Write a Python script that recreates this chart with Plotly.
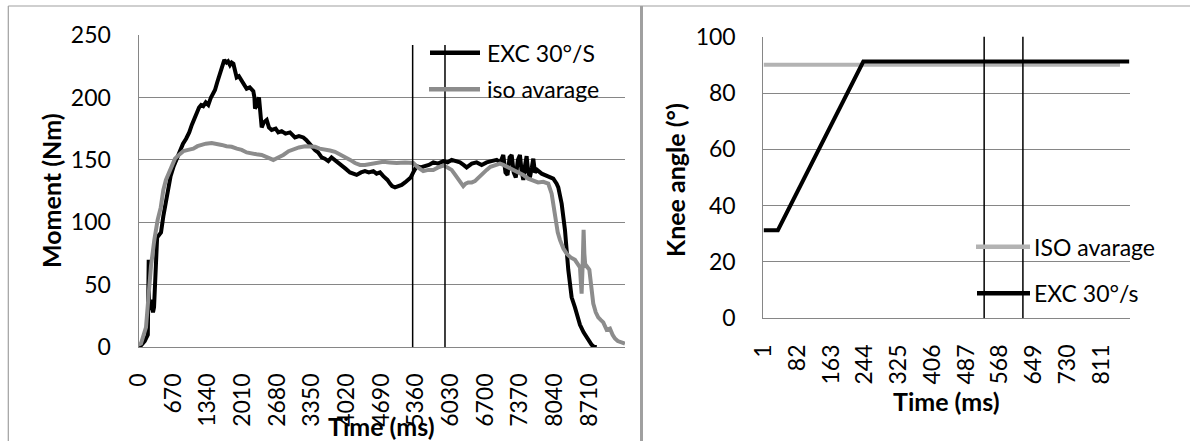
import plotly.graph_objects as go

# ---------------- data: left chart (moment) ----------------
exc_time_ms = [0, 40, 120, 180, 197, 205, 240, 280, 300, 320, 340, 360, 400, 435, 480, 530, 576, 620, 680, 740,
               800, 860, 920, 980, 1030, 1080, 1124, 1170, 1210, 1252, 1300, 1349, 1400, 1440, 1478, 1520, 1575,
               1620, 1658, 1700, 1730, 1768, 1800, 1833, 1870, 1897, 1940, 1994, 2040, 2090, 2150, 2218, 2240,
               2251, 2290, 2328, 2350, 2380, 2420, 2477, 2520, 2573, 2650, 2700, 2766, 2840, 2927, 2980, 3023,
               3100, 3185, 3240, 3281, 3340, 3410, 3470, 3539, 3600, 3667, 3730, 3797, 3860, 3926, 4000, 4086,
               4150, 4215, 4300, 4376, 4450, 4537, 4600, 4666, 4730, 4762, 4810, 4859, 4900, 4956, 5020, 5085,
               5150, 5213, 5260, 5309, 5340, 5375, 5450, 5535, 5610, 5696, 5790, 5889, 5970, 6050, 6130, 6211,
               6280, 6340, 6440, 6534, 6630, 6727, 6820, 6920, 6990, 7048, 7090, 7130, 7170, 7210, 7250, 7290,
               7330, 7370, 7400, 7435, 7470, 7499, 7530, 7563, 7600, 7628, 7660, 7700, 7790, 7886, 7950, 8014,
               8079, 8111, 8176, 8240, 8304, 8369, 8433, 8480, 8530, 8600, 8659, 8710, 8756, 8800, 8852]
exc_moment_nm = [0, 1, 5, 10, 70, 30, 38, 28, 32, 55, 85, 88, 90, 92, 105, 118, 129, 137, 145, 151,
                 158, 163, 167, 172, 178, 183, 188, 192, 194, 193, 196, 194, 200, 203, 206, 212, 220,
                 225, 230, 228, 229, 226, 228, 227, 220, 216, 217, 213, 210, 207, 208, 205, 200,
                 191, 195, 200, 190, 176, 180, 182, 176, 174, 175, 172, 173, 171, 172, 170, 168,
                 169, 168, 166, 164, 161, 158, 156, 152, 151, 149, 152, 150, 148, 146, 143, 140,
                 139, 138, 140, 141, 140, 141, 139, 140, 137, 136, 134, 131, 129, 128, 129, 130,
                 132, 134, 136, 140, 143, 145, 144, 145, 146, 148, 147, 149, 148, 150, 149, 148,
                 146, 144, 147, 148, 146, 148, 149, 150, 148, 154, 140, 138, 152, 154, 140, 136,
                 150, 154, 142, 134, 146, 153, 140, 136, 144, 151, 140, 142, 139, 137, 136, 135,
                 131, 128, 115, 94, 62, 40, 32, 25, 18, 12, 8, 5, 2, 0.5, 0]

iso_time_ms = [0, 48, 145, 200, 241, 306, 370, 430, 480, 530, 576, 640, 705, 780, 866, 960, 1059, 1140, 1220,
               1300, 1414, 1500, 1607, 1700, 1800, 1900, 1994, 2090, 2187, 2280, 2380, 2500, 2605, 2700, 2798,
               2900, 2991, 3100, 3217, 3300, 3410, 3500, 3603, 3700, 3797, 3900, 3990, 4090, 4183, 4280, 4376,
               4470, 4570, 4650, 4730, 4850, 4988, 5150, 5309, 5400, 5502, 5600, 5696, 5790, 5889, 5970, 6050,
               6120, 6179, 6230, 6275, 6320, 6372, 6440, 6501, 6550, 6598, 6660, 6727, 6800, 6888, 6984, 7048,
               7140, 7241, 7340, 7434, 7530, 7628, 7720, 7821, 7917, 7983, 8047, 8100, 8143, 8210, 8273, 8350,
               8433, 8490, 8530, 8550, 8562, 8585, 8600, 8615, 8635, 8659, 8711, 8750, 8787, 8835, 8883, 8930,
               8980, 9045, 9080, 9109, 9160, 9206, 9260, 9303, 9350, 9399]
iso_moment_nm = [2, 3, 16, 45, 65, 86, 102, 112, 126, 134, 139, 146, 151, 154, 157, 158, 159, 161, 162,
                 163, 163.5, 163, 162, 161, 160.5, 159, 158, 156, 155, 154.5, 154, 152, 150, 152, 154,
                 157, 158.5, 160, 161, 161, 160.5, 159, 158.5, 157.5, 156.5, 154.5, 152.5, 150, 147.5, 146, 146,
                 146.5, 147.5, 148, 148.5, 148, 147.5, 148, 147.5, 144, 141, 142, 142, 144, 145.5, 144, 142,
                 138, 134, 131, 129, 131, 132, 132, 133, 135, 137, 140, 142, 144.5, 146, 147, 146,
                 144, 142, 140, 138, 135, 133, 132, 132.5, 131, 123, 105, 92, 86, 79, 75, 72,
                 70, 67, 64, 50, 43, 70, 94, 75, 64, 65, 62, 48, 35, 28, 24, 22,
                 20, 14, 15, 15, 10, 7, 5, 4.5, 3.5, 3]

left_tick_values = [0, 670, 1340, 2010, 2680, 3350, 4020, 4690, 5360, 6030, 6700, 7370, 8040, 8710]
left_marker_ms = [5297, 5922]

# ---------------- data: right chart (knee angle) ----------------
angle_exc_time = [1, 35, 240, 878]
angle_exc_deg = [31.3, 31.3, 91.2, 91.2]
angle_iso_time = [1, 856]
angle_iso_deg = [90, 90]
right_tick_values = [1, 82, 163, 244, 325, 406, 487, 568, 649, 730, 811]
right_marker_time = [530, 623]

# ---------------- styling ----------------
W, H = 1194, 441
FONT = "Lato"
GRID = "#868686"
BLACK = "#000000"
GRAY_L = "#8c8c8c"
GRAY_R = "#b3b3b3"


def px(x):
    return x / W


def py(y):
    return 1 - y / H


fig = go.Figure()
fig.add_trace(go.Scatter(x=exc_time_ms, y=exc_moment_nm, mode="lines", name="EXC 30°/S",
                         line=dict(color=BLACK, width=4), xaxis="x", yaxis="y"))
fig.add_trace(go.Scatter(x=iso_time_ms, y=iso_moment_nm, mode="lines", name="iso avarage",
                         line=dict(color=GRAY_L, width=4), xaxis="x", yaxis="y"))
fig.add_trace(go.Scatter(x=angle_iso_time, y=angle_iso_deg, mode="lines", name="ISO avarage",
                         line=dict(color=GRAY_R, width=4), xaxis="x2", yaxis="y2"))
fig.add_trace(go.Scatter(x=angle_exc_time, y=angle_exc_deg, mode="lines", name="EXC 30°/s",
                         line=dict(color=BLACK, width=4), xaxis="x2", yaxis="y2"))

tickfont = dict(family=FONT, size=23, color="black")
axis_common = dict(showline=True, linecolor=GRID, linewidth=1, zeroline=False, ticks="",
                   tickfont=tickfont, fixedrange=True, automargin=False)

fig.update_layout(
    template="none",
    width=W, height=H, autosize=False,
    margin=dict(l=0, r=0, t=0, b=0, pad=0),
    paper_bgcolor="white", plot_bgcolor="white",
    showlegend=False,
    font=dict(family=FONT, color="black"),
    xaxis=dict(domain=[px(138.5), px(625)], range=[0, 9400], tickmode="array",
               tickvals=left_tick_values, ticktext=[str(v) for v in left_tick_values],
               tickangle=-90, showgrid=False, anchor="y", ticklabelstandoff=16, **axis_common),
    yaxis=dict(domain=[py(347.3), py(35)], range=[0, 250], dtick=50, showgrid=True,
               gridcolor=GRID, gridwidth=1, anchor="x", ticklabelstandoff=22, **axis_common),
    xaxis2=dict(domain=[px(763.3), px(1130)], range=[0, 880], tickmode="array",
                tickvals=right_tick_values, ticktext=[str(v) for v in right_tick_values],
                tickangle=-90, showgrid=False, anchor="y2", ticklabelstandoff=16, **axis_common),
    yaxis2=dict(domain=[py(318.3), py(36.7)], range=[0, 100], dtick=20, showgrid=True,
                gridcolor=GRID, gridwidth=1, anchor="x2", ticklabelstandoff=22, **axis_common),
)

shapes = []
# vertical marker lines
for t in left_marker_ms:
    shapes.append(dict(type="line", xref="x", yref="y", x0=t, x1=t, y0=0, y1=242,
                       line=dict(color=BLACK, width=1.5)))
for t in right_marker_time:
    shapes.append(dict(type="line", xref="x2", yref="y2", x0=t, x1=t, y0=0, y1=100.5,
                       line=dict(color=BLACK, width=1.5)))

# frame lines
frame = "#a0a0a0"
shapes += [
    dict(type="line", xref="paper", yref="paper", x0=px(8.3), x1=px(8.3), y0=0, y1=py(6),
         line=dict(color=frame, width=1.2)),
    dict(type="line", xref="paper", yref="paper", x0=px(8.3), x1=px(1190), y0=py(6), y1=py(6),
         line=dict(color=frame, width=1.2)),
    dict(type="line", xref="paper", yref="paper", x0=px(641.5), x1=px(641.5), y0=0, y1=py(6),
         line=dict(color=frame, width=3)),
]


def legend_line(x0, x1, y, color):
    return dict(type="line", xref="paper", yref="paper", x0=px(x0), x1=px(x1), y0=py(y), y1=py(y),
                line=dict(color=color, width=4.5))


shapes += [
    legend_line(430, 480, 52.7, BLACK),
    legend_line(429, 480, 89.3, GRAY_L),
    legend_line(976, 1030, 246.7, GRAY_R),
    legend_line(977, 1030, 293.3, BLACK),
]
fig.update_layout(shapes=shapes)

ann_font = dict(family=FONT, size=23, color="black")
title_font = dict(family=FONT, size=25, color="black")
annotations = [
    dict(text="EXC 30°/S", x=px(486), y=py(52.7), xanchor="left", yanchor="middle", font=ann_font),
    dict(text="iso avarage", x=px(486), y=py(89.3), xanchor="left", yanchor="middle", font=ann_font),
    dict(text="ISO avarage", x=px(1033), y=py(246.7), xanchor="left", yanchor="middle", font=ann_font),
    dict(text="EXC 30°/s", x=px(1033), y=py(293.3), xanchor="left", yanchor="middle", font=ann_font),
    dict(text="<b>Time (ms)</b>", x=px(381.75), y=py(426), xanchor="center", yanchor="middle", font=title_font),
    dict(text="<b>Time (ms)</b>", x=px(946.7), y=py(401), xanchor="center", yanchor="middle", font=title_font),
    dict(text="<b>Moment (Nm)</b>", x=px(51), y=py(191), xanchor="center", yanchor="middle",
         textangle=-90, font=title_font),
    dict(text="<b>Knee angle (°)</b>", x=px(675), y=py(180), xanchor="center", yanchor="middle",
         textangle=-90, font=title_font),
]
for a in annotations:
    a.update(xref="paper", yref="paper", showarrow=False, borderpad=0)
fig.update_layout(annotations=annotations)

fig.write_html("out.html", config={"displayModeBar": False},
               post_script="document.body.style.margin='0';document.body.style.overflow='hidden';")
